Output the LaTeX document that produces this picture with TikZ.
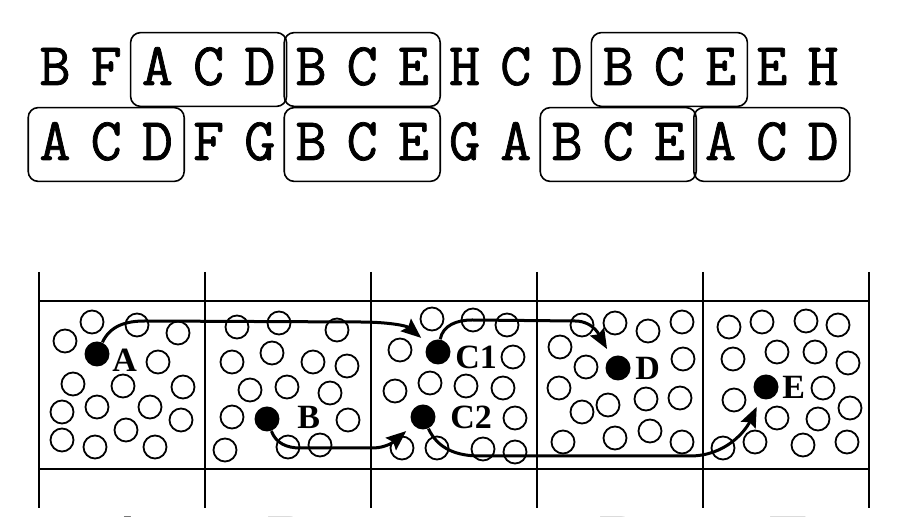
\documentclass[tikz,border=0pt]{standalone}
\usepackage{fontspec}
\setmainfont{Liberation Serif}
\newfontfamily\seqfont[FakeBold=1.2]{Latin Modern Mono}
\usetikzlibrary{positioning,fit,arrows.meta}

\tikzset{
  glyph/.style={font=\seqfont\fontsize{30.3}{30.3}\selectfont, inner sep=0pt,
    minimum width=25.6pt, text height=18.5pt, text depth=3pt, anchor=base},
  motif/.style={draw, line width=0.8pt, rounded corners=5pt, inner xsep=0.4pt, inner ysep=7.5pt},
  hole/.style={line width=0.9pt},
  dot/.style={circle, fill, inner sep=0pt, minimum size=12.5pt},
  tag/.style={font=\bfseries\fontsize{17}{17}\selectfont, inner sep=0pt},
  flow/.style={line width=1.5pt, -{Stealth[length=10pt,width=8pt,inset=1.5pt]}, shorten >=4.5pt},
  cellname/.style={font=\fontsize{36}{36}\selectfont, inner sep=0pt, anchor=north}
}

\begin{document}
\begin{tikzpicture}[x=0.5pt, y=-0.5pt]
    \useasboundingbox (0,0) rectangle (918,517);
    \clip (0,0) rectangle (918,517);

    % Two sequences
    \foreach \ch [count=\i from 0] in {B,F,A,C,D,B,C,E,H,C,D,B,C,E,E,H}
        \node[glyph] (s1-\i) at ({55+51.2*\i},85) {\ch};
    \foreach \ch [count=\i from 0] in {A,C,D,F,G,B,C,E,G,A,B,C,E,A,C,D}
        \node[glyph] (s2-\i) at ({55+51.2*\i},160) {\ch};

    % Motif occurrences
    \node[motif, fit=(s1-2)(s1-4)] (m1) {};
    \node[motif, fit=(s1-5)(s1-7)] (m2) {};
    \node[motif, fit=(s1-11)(s1-13)] (m3) {};
    \node[motif, fit=(s2-0)(s2-2)] (m4) {};
    \node[motif, fit=(s2-5)(s2-7)] (m5) {};
    \node[motif, fit=(s2-10)(s2-12)] (m6) {};
    \node[motif, fit=(s2-13)(s2-15)] (m7) {};

    % Grid of cells
    \draw[line width=1pt] (39,301) -- (869,301) (39,469) -- (869,469);
    \foreach \x in {39,205,371,537,703,869}
        \draw[line width=1pt] (\x,272) -- (\x,508);

    % Empty circles, cell by cell
    \foreach \p in {(65,341),(92,322),(137,325),(178,333),(158,362),(73,384),(123,386),(183,387),
                    (62,412),(97,407),(150,407),(181,420),(126,430),(62,440),(95,447),(155,447)}
        \draw[hole] \p circle (5.75pt);
    \foreach \p in {(237,327),(279,323),(337,330),(232,362),(272,353),(313,362),(347,366),(250,390),
                    (287,387),(330,393),(232,417),(348,420),(225,450),(288,447),(320,445)}
        \draw[hole] \p circle (5.75pt);
    \foreach \p in {(432,319),(473,320),(507,325),(400,350),(513,357),(395,391),(430,383),(466,386),
                    (503,388),(515,418),(402,448),(437,448),(483,449),(515,452)}
        \draw[hole] \p circle (5.75pt);
    \foreach \p in {(560,347),(582,325),(615,323),(648,331),(682,322),(586,367),(683,359),(559,388),
                    (582,412),(608,405),(646,399),(680,398),(563,442),(615,438),(650,431),(682,442)}
        \draw[hole] \p circle (5.75pt);
    \foreach \p in {(729,327),(762,322),(806,321),(838,325),(733,359),(777,352),(815,352),(848,363),
                    (823,388),(734,400),(777,418),(818,419),(850,408),(723,448),(755,442),(803,445),(847,442)}
        \draw[hole] \p circle (5.75pt);

    % Marked items
    \node[dot] (A) at (97,354) {};
    \node[dot] (B) at (267,419) {};
    \node[dot] (C1) at (438,352) {};
    \node[dot] (C2) at (423,417) {};
    \node[dot] (D) at (618,368) {};
    \node[dot] (E) at (766,387) {};
    \node[tag, right=1pt of A, yshift=-3pt] (tA) {A};
    \node[tag, right=8.5pt of B, yshift=1pt] (tB) {B};
    \node[tag, right=2pt of C1, yshift=-2.5pt] (tC1) {C1};
    \node[tag, right=7pt of C2] (tC2) {C2};
    \node[tag, right=2pt of D] (tD) {D};
    \node[tag, right=1.5pt of E] (tE) {E};

    % Paths between cells
    \draw[flow] (A) to[out=65,in=180] (145,321) -- (360,322) to[out=0,in=140] (C1);
    \draw[flow] (C1) to[out=80,in=180] (472,320) -- (575,321) to[out=0,in=120] (D);
    \draw[flow] (B) to[out=-70,in=180] (300,448) -- (372,448) to[out=0,in=-140] (C2);
    \draw[flow] (C2) to[out=-65,in=180] (480,456) -- (690,456) to[out=0,in=-115] (E);

    % Cell names (cut at the lower edge)
    \foreach \n/\x in {A/128,B/291,C/462,D/624,E/790}
        \node[cellname] (c\n) at (\x,517) {\n};
\end{tikzpicture}
\end{document}
